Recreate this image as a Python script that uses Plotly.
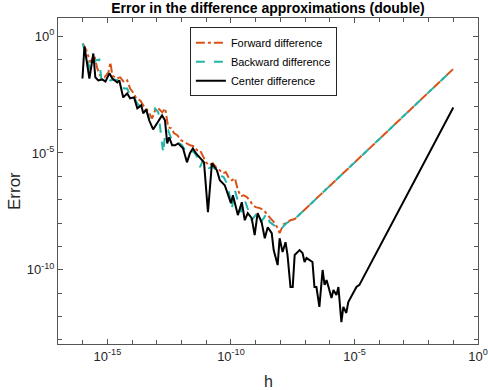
import plotly.graph_objects as go

# log10(h) and log10(error)
fwd_logh = [-16.0, -15.85, -15.69, -15.53, -15.41, -15.29, -15.12, -14.96, -14.88, -14.80,
            -14.64, -14.48, -14.32, -14.20, -14.08, -13.96, -13.83, -13.67, -13.55, -13.43,
            -13.31, -13.19, -13.07, -12.94, -12.78, -12.66, -12.54, -12.42, -12.30, -12.17,
            -12.01, -11.85, -11.65, -11.49, -11.37, -11.25, -11.13, -11.01, -10.89, -10.73,
            -10.57, -10.45, -10.33, -10.21, -10.08, -9.96, -9.84, -9.72, -9.60, -9.48,
            -9.36, -9.24, -9.12, -9.00, -8.83, -8.67, -8.51, -8.35, -8.23, -8.11,
            -8.03, -7.87, -7.75, -7.59, -7.42, -4.0, -1.0]
fwd_logerr = [-0.31, -0.61, -1.12, -0.82, -1.38, -1.68, -1.76, -1.55, -1.12, -1.68,
              -1.81, -1.76, -1.98, -1.89, -2.24, -2.41, -2.66, -2.75, -2.96, -3.09,
              -3.30, -3.52, -3.18, -3.09, -3.26, -3.09, -3.90, -3.94, -4.16, -4.24,
              -4.46, -4.54, -4.67, -4.71, -4.88, -4.88, -5.18, -5.40, -5.53, -5.44,
              -5.65, -5.74, -5.87, -5.82, -6.08, -6.17, -6.08, -6.59, -6.85, -6.81,
              -6.89, -7.02, -7.23, -7.32, -7.36, -7.45, -7.66, -7.88, -8.00, -8.22,
              -8.43, -8.05, -8.00, -7.88, -7.83, -4.41, -1.40]

bwd_logh = [-16.0, -15.85, -15.69, -15.49, -15.33, -15.25, -15.12, -15.00, -14.88, -14.72,
            -14.56, -14.44, -14.32, -14.20, -14.08, -13.92, -13.79, -13.67, -13.55, -13.43,
            -13.31, -13.19, -13.07, -12.94, -12.82, -12.74, -12.66, -12.54, -12.42, -12.30,
            -12.14, -11.98, -11.81, -11.65, -11.49, -11.33, -11.25, -11.13, -11.01, -10.89,
            -10.73, -10.57, -10.45, -10.29, -10.13, -9.96, -9.84, -9.72, -9.60, -9.44,
            -9.32, -9.16, -9.00, -8.83, -8.67, -8.55, -8.43, -8.31, -8.15, -8.03,
            -7.91, -7.75, -7.59, -7.42, -4.0, -1.0]
bwd_logerr = [-0.31, -0.82, -1.47, -1.04, -1.00, -1.81, -1.89, -1.81, -1.89, -1.85,
              -1.89, -2.11, -2.24, -2.24, -2.53, -2.62, -2.88, -3.00, -3.18, -3.18,
              -3.52, -3.30, -3.09, -3.26, -4.24, -5.01, -4.12, -4.03, -4.37, -4.46,
              -4.54, -4.67, -4.97, -4.88, -4.97, -5.23, -5.61, -5.31, -5.53, -5.65,
              -5.57, -5.82, -5.95, -6.04, -6.38, -7.36, -6.59, -7.02, -7.53, -7.02,
              -7.36, -7.88, -7.66, -8.00, -7.79, -7.58, -7.96, -8.05, -8.18, -8.09,
              -8.18, -8.00, -7.92, -7.83, -4.41, -1.40]

ctr_logh = [-16.01, -15.93, -15.73, -15.57, -15.49, -15.37, -15.21, -15.08, -14.92, -14.80,
            -14.60, -14.52, -14.36, -14.20, -14.08, -13.92, -13.79, -13.63, -13.55, -13.43,
            -13.31, -13.15, -12.99, -12.79, -12.67, -12.58, -12.50, -12.38, -12.26, -12.14,
            -11.94, -11.78, -11.66, -11.54, -11.42, -11.25, -11.09, -10.93, -10.77, -10.57,
            -10.45, -10.25, -10.00, -9.92, -9.72, -9.56, -9.44, -9.32, -9.16, -9.04,
            -8.92, -8.76, -8.63, -8.51, -8.35, -8.27, -8.11, -8.03, -7.91, -7.79,
            -7.71, -7.59, -7.50, -7.42, -7.34, -7.22, -7.10, -7.02, -6.94, -6.82,
            -6.70, -6.62, -6.54, -6.42, -6.29, -6.21, -6.13, -6.05, -5.93, -5.85,
            -5.73, -5.65, -5.53, -5.45, -5.33, -5.25, -5.08, -4.92, -4.80, -3.0,
            -2.0, -1.0]
ctr_logerr = [-1.81, -0.44, -1.81, -0.74, -1.76, -1.89, -1.85, -1.94, -1.59, -1.81,
              -1.98, -1.89, -2.62, -2.45, -2.66, -2.62, -3.09, -2.96, -3.30, -3.13,
              -3.60, -3.99, -3.73, -3.39, -3.60, -4.59, -4.33, -4.67, -4.67, -4.59,
              -4.80, -5.40, -5.01, -4.80, -5.01, -5.23, -5.40, -7.53, -5.44, -5.74,
              -6.17, -6.38, -7.15, -6.81, -7.66, -7.11, -7.88, -7.58, -7.79, -8.52,
              -7.58, -7.96, -8.65, -8.18, -8.43, -9.16, -9.80, -8.65, -9.24, -8.82,
              -9.37, -10.74, -10.74, -9.37, -9.29, -9.16, -9.29, -9.67, -9.50, -9.58,
              -9.67, -10.74, -10.74, -11.59, -10.01, -10.65, -10.44, -10.74, -11.21, -10.87,
              -11.08, -10.74, -12.24, -11.59, -11.85, -11.38, -11.08, -10.74, -10.65, -7.05,
              -5.05, -3.05]

x_tickvals = [1e-15, 1e-10, 1e-5, 1]
x_ticktext = ["10<sup>-15</sup>", "10<sup>-10</sup>", "10<sup>-5</sup>", "10<sup>0</sup>"]
y_tickvals = [1e-10, 1e-5, 1]
y_ticktext = ["10<sup>-10</sup>", "10<sup>-5</sup>", "10<sup>0</sup>"]


def p10(v):
    return [10 ** a for a in v]


fig = go.Figure()
fig.add_trace(go.Scatter(x=p10(fwd_logh), y=p10(fwd_logerr), mode="lines", name="Forward difference",
                         line=dict(color="#D95319", width=2, dash="dashdot")))
fig.add_trace(go.Scatter(x=p10(bwd_logh), y=p10(bwd_logerr), mode="lines", name="Backward difference",
                         line=dict(color="#22B5A8", width=2, dash="dash")))
fig.add_trace(go.Scatter(x=p10(ctr_logh), y=p10(ctr_logerr), mode="lines", name="Center difference",
                         line=dict(color="black", width=2)))

axis_style = dict(type="log", showgrid=False, zeroline=False, showline=True, mirror="ticks",
                  linecolor="#555555", linewidth=1, ticks="inside", ticklen=5, tickcolor="#555555",
                  tickmode="array", automargin=False,
                  minor=dict(tickmode="linear", tick0=0, dtick=1, ticks="inside", ticklen=4,
                             tickcolor="#555555", showgrid=False),
                  tickfont=dict(family="Liberation Sans, Arial", size=13, color="#262626"))

fig.update_xaxes(range=[-17, 0], tickvals=x_tickvals, ticktext=x_ticktext, **axis_style)
fig.update_yaxes(range=[-13.18, 0.78], tickvals=y_tickvals, ticktext=y_ticktext, **axis_style)

fig.update_layout(
    width=488, height=390, autosize=False,
    margin=dict(l=58, r=10, t=18, b=46),
    plot_bgcolor="white", paper_bgcolor="white",
    font=dict(family="Liberation Sans, Arial", color="#262626"),
    title=dict(text="<b>Error in the difference approximations (double)</b>",
               x=(58 + 478) / 2 / 488, xanchor="center", y=1 - 8 / 390, yanchor="middle",
               font=dict(size=14, color="black")),
    legend=dict(x=0.314, y=0.972, xanchor="left", yanchor="top",
                bgcolor="white", bordercolor="#262626", borderwidth=1,
                font=dict(size=11, color="black"), tracegroupgap=0),
    showlegend=True,
    annotations=[
        dict(text="h", xref="paper", yref="paper", x=0.5, y=-0.115, xanchor="center", yanchor="middle",
             showarrow=False, font=dict(size=16, color="#262626")),
        dict(text="Error", xref="paper", yref="paper", x=-0.105, y=0.469, xanchor="center", yanchor="middle",
             textangle=-90, showarrow=False, font=dict(size=17, color="#262626")),
    ],
)

# the page's default body margin and scrollbars would shift / squeeze the figure
fix_page = ("var st=document.createElement('style');"
            "st.innerHTML='html,body{margin:0;padding:0;overflow:hidden;}';"
            "document.head.appendChild(st);"
            "var gd=document.getElementById('{plot_id}');"
            "Plotly.relayout(gd,{width:488,height:390});")

fig.write_html("out.html", config={"responsive": False, "displayModeBar": False}, post_script=fix_page)
